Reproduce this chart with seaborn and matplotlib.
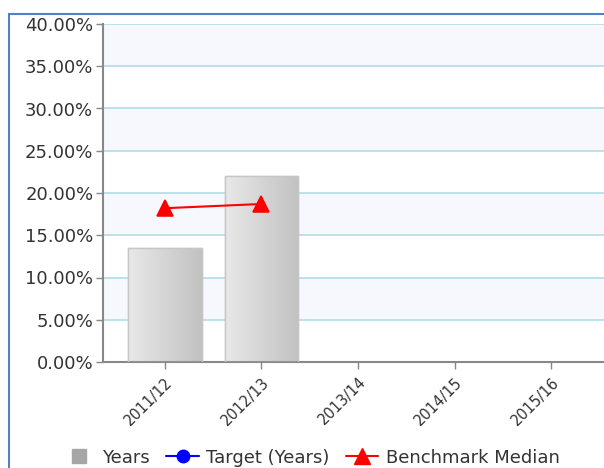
import numpy as np
import pandas as pd
import matplotlib
matplotlib.use("Agg")
import matplotlib.pyplot as plt
from matplotlib.lines import Line2D
from matplotlib.patches import Rectangle
import seaborn as sns

years = ["2011/12", "2012/13", "2013/14", "2014/15", "2015/16"]
actual = [13.5, 22.0, np.nan, np.nan, np.nan]
benchmark = [18.2, 18.7, np.nan, np.nan, np.nan]
yticks = [0, 5, 10, 15, 20, 25, 30, 35, 40]

df = pd.DataFrame({"year": years, "actual": actual, "benchmark": benchmark})

sns.set_theme(style="white")
plt.rcParams["font.family"] = ["DejaVu Sans"]

fig = plt.figure(figsize=(6.04, 4.68), dpi=100)
ax = fig.add_axes([103 / 604, 106 / 468, 510 / 604, 338 / 468])

sns.barplot(data=df, x="year", y="actual", order=years, width=0.76,
            color="#d4d4d4", edgecolor="#c6c6c6", linewidth=1, ax=ax, zorder=2)
bars = list(ax.containers[0])

# gradient fill for the bars
grad = np.linspace(0, 1, 64).reshape(1, -1)
cmap = matplotlib.colors.LinearSegmentedColormap.from_list("g", ["#e8e8e8", "#c2c2c2"])
for p in bars:
    h = p.get_height()
    if np.isnan(h) or h == 0:
        continue
    x0, y0 = p.get_x(), p.get_y()
    im = ax.imshow(grad, cmap=cmap, aspect="auto", zorder=2.5,
                   extent=[x0, x0 + p.get_width(), y0, y0 + h])
    im.set_clip_path(p)
    ax.add_patch(Rectangle((x0, y0), p.get_width(), h, fill=False,
                           edgecolor="#c6c6c6", lw=1, zorder=2.6))

# alternating background bands and grid lines
for i, lo in enumerate(yticks[:-1]):
    if i % 2 == 1:
        ax.axhspan(lo, lo + 5, color="#f6f8fd", zorder=0, lw=0)
for t in yticks[1:]:
    ax.axhline(t, color="#b5dfe8", lw=1.3, zorder=1)

sns.pointplot(data=df, x="year", y="benchmark", order=years, color="#ff0000",
              markers="^", markersize=12, linewidth=1.5, ax=ax, zorder=4)

ax.set_xlim(-0.64, 4.64)
ax.set_ylim(0, 40)
ax.set_yticks(yticks)
ax.set_yticklabels([f"{t:.2f}%" for t in yticks], fontsize=13, color="#333333")
ax.set_xticks(range(len(years)))
ax.set_xticklabels(years, rotation=45, ha="right", rotation_mode="anchor",
                   fontsize=10.5, color="#333333")
ax.set_xlabel("")
ax.set_ylabel("")
ax.tick_params(axis="both", which="both", length=5, width=1, color="#888888",
               bottom=True, left=True, direction="out")
ax.tick_params(axis="y", pad=2)
ax.tick_params(axis="x", pad=4)
for s in ["top", "right"]:
    ax.spines[s].set_visible(False)
for s in ["left", "bottom"]:
    ax.spines[s].set_color("#888888")
    ax.spines[s].set_linewidth(1.5)

handles = [
    Line2D([], [], ls="none", marker="s", markersize=10, color="#a6a6a6"),
    Line2D([], [], color="#0000ff", marker="o", markersize=9, lw=1.5),
    Line2D([], [], color="#ff0000", marker="^", markersize=11, lw=1.5),
]
fig.legend(handles, ["Years", "Target (Years)", "Benchmark Median"],
           loc="center", bbox_to_anchor=(0.515, 0.022), ncol=3, frameon=False,
           fontsize=13, handlelength=1.8, handletextpad=0.4, columnspacing=0.9,
           labelcolor="#333333")

fig.patches.append(Rectangle((9 / 604, -0.2), 1.2, 1.2 - 14 / 468,
                             transform=fig.transFigure, fill=False,
                             edgecolor="#4f81c7", lw=1.5, zorder=10))

fig.savefig("out.png", dpi=100)
